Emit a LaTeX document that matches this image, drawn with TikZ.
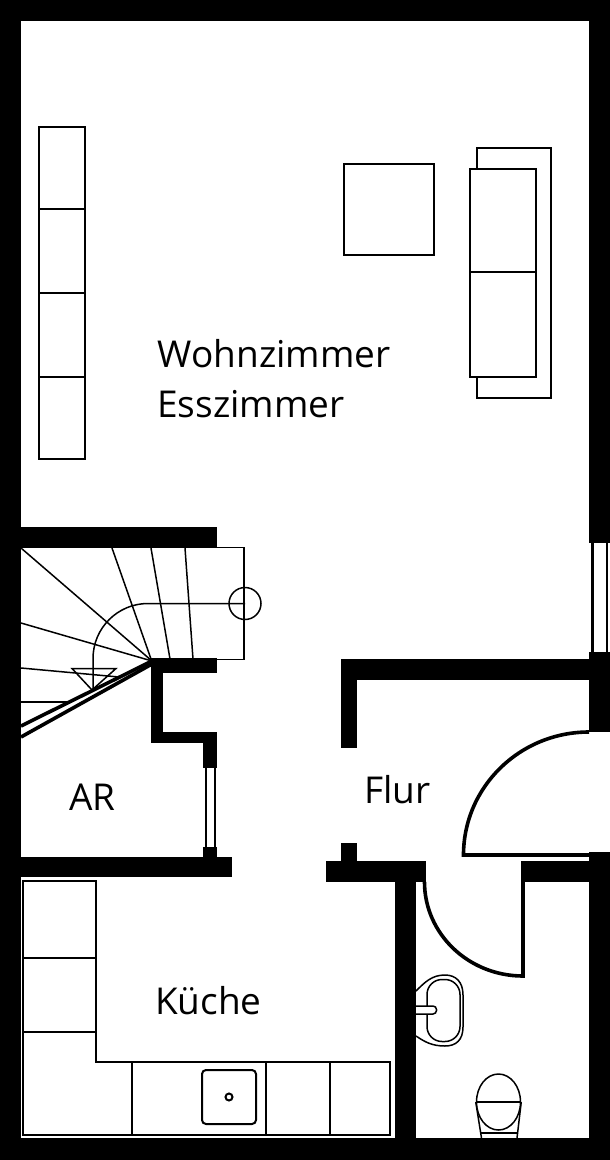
\documentclass[tikz,border=0pt]{standalone}
\usepackage{fontspec}
\setmainfont{Open Sans}
\usetikzlibrary{positioning,calc,shapes.geometric}

\begin{document}
\begin{tikzpicture}[
    x = 1pt,
    y = -1pt,
    wallfill/.style={fill=black, draw=none},
    furniture/.style={draw=black, line width=2pt},
    stairline/.style={draw=black, line width=1.5pt},
    railline/.style={draw=black, line width=3.6pt},
    doorline/.style={draw=black, line width=3.6pt},
    roomlabel/.style={font=\fontsize{37}{37}\selectfont, inner sep=0pt, anchor=base west}
    ]
    \useasboundingbox (0,0) rectangle (610,1160);
    % outer walls
    \fill[wallfill] (0,0) rectangle (610,21);
    \fill[wallfill] (0,0) rectangle (21,1160);
    \fill[wallfill] (0,1138) rectangle (610,1160);
    \fill[wallfill] (589,0) rectangle (610,543);
    \fill[wallfill] (589,652) rectangle (610,732);
    \fill[wallfill] (589,852) rectangle (610,1160);
    % inner walls
    \fill[wallfill] (21,527) rectangle (217,548);
    \fill[wallfill] (151,658) rectangle (217,673);
    \fill[wallfill] (151,658) rectangle (163,743);
    \fill[wallfill] (151,732) rectangle (217,743);
    \fill[wallfill] (203,732) rectangle (217,768);
    \fill[wallfill] (203,847) rectangle (217,857);
    \fill[wallfill] (21,857) rectangle (232,877);
    \fill[wallfill] (341,659) rectangle (589,680);
    \fill[wallfill] (341,659) rectangle (357,748);
    \fill[wallfill] (341,843) rectangle (357,861);
    \fill[wallfill] (326,861) rectangle (426,882);
    \fill[wallfill] (521,861) rectangle (589,882);
    \fill[wallfill] (395,882) rectangle (416,1138);
    % windows
    \draw[line width=2pt] (206,768) -- (206,847);
    \draw[line width=2pt] (215,768) -- (215,847);
    \draw[line width=2.4pt] (592.5,543) -- (592.5,652);
    \draw[line width=1.6pt] (607,543) -- (607,652);
    % doors
    \draw[doorline] (589,732) arc[start angle=270, end angle=180, x radius=125.5, y radius=123] -- (589,855);
    \draw[doorline] (424.5,882) arc[start angle=180, end angle=90, x radius=98.5, y radius=94] -- (523,882);
    % living room
    \draw[furniture] (39,126.5) rectangle (84.5,459);
    \draw[furniture] (39,208.5) -- (84.5,208.5);
    \draw[furniture] (39,292.5) -- (84.5,292.5);
    \draw[furniture] (39,376.5) -- (84.5,376.5);
    \draw[furniture] (343.5,163.5) rectangle (434,255);
    \draw[furniture] (477,169) |- (550.5,147.5) |- (477,398) -- (477,377);
    \draw[furniture] (470,169) rectangle (536,376.5);
    \draw[furniture] (470,272) -- (536,272);
    % stairs
    \draw[stairline] (21,548) -- (152,661);
    \draw[stairline] (21,623) -- (152,661);
    \draw[stairline] (21,668) -- (119,677);
    \draw[stairline] (21,702) -- (70,702);
    \draw[stairline] (112,548) -- (151,659);
    \draw[stairline] (151,548) -- (170,659);
    \draw[stairline] (185,548) -- (193,659);
    \draw[stairline] (217,547.5) -| (244,659.5) -- (217,659.5);
    \draw[railline] (21,726) -- (152,661);
    \draw[railline] (21,737) -- (152,664);
    \node[stairline, circle, minimum size=32pt, inner sep=0pt] (treadmark) at (245,603.5) {};
    \draw[stairline] (treadmark.center) -- (148,603.5) arc[start angle=270, end angle=180, radius=55] -- (93,690);
    \draw[stairline] (72,668.5) -- (116,668.5) -- (92,690) -- cycle;
    % kitchen
    \draw[furniture] (22.5,881) -| (96,1062) -| (389.5,1135) -| cycle;
    \draw[furniture] (22.5,958) -- (96,958);
    \draw[furniture] (22.5,1032) -- (96,1032);
    \draw[furniture] (132,1062) -- (132,1135);
    \draw[furniture] (266,1062) -- (266,1135);
    \draw[furniture] (330,1062) -- (330,1135);
    \draw[furniture, rounded corners=4pt] (202,1070) rectangle (256,1124);
    \node[furniture, circle, minimum size=7pt, inner sep=0pt] (sinkdrain) at (229,1097) {};
    % bath
    \draw[stairline] (416,991) .. controls (425,982) and (432,975) .. (445,975)
        .. controls (456,975) and (463,982) .. (463,995) -- (463,1027)
        .. controls (463,1040) and (456,1046) .. (445,1046)
        .. controls (432,1046) and (425,1042) .. (416,1036);
    \draw[stairline, rounded corners=15pt] (427,979.5) rectangle (460,1041.5);
    \draw[stairline, fill=white, rounded corners=3.5pt] (416,1006) -- (436.5,1006) -- (436.5,1014) -- (416,1014);
    \node[stairline, ellipse, minimum width=44pt, minimum height=56pt, inner sep=0pt] (wcbowl) at (498.5,1102) {};
    \draw[stairline] (wcbowl.west) -- (wcbowl.east);
    \draw[stairline] (wcbowl.west) -- (481.5,1138);
    \draw[stairline] (wcbowl.east) -- (517,1138);
    \draw[stairline] (481,1133) -- (517.5,1133);
    % labels
    \node[roomlabel] (wohnzimmer) at (157.5,367) {Wohnzimmer};
    \node[roomlabel] (esszimmer) at (157,417) {Esszimmer};
    \node[roomlabel] (ar) at (69,810) {AR};
    \node[roomlabel] (flur) at (364,803) {Flur};
    \node[roomlabel] (kueche) at (155,1014) {Küche};
\end{tikzpicture}
\end{document}
